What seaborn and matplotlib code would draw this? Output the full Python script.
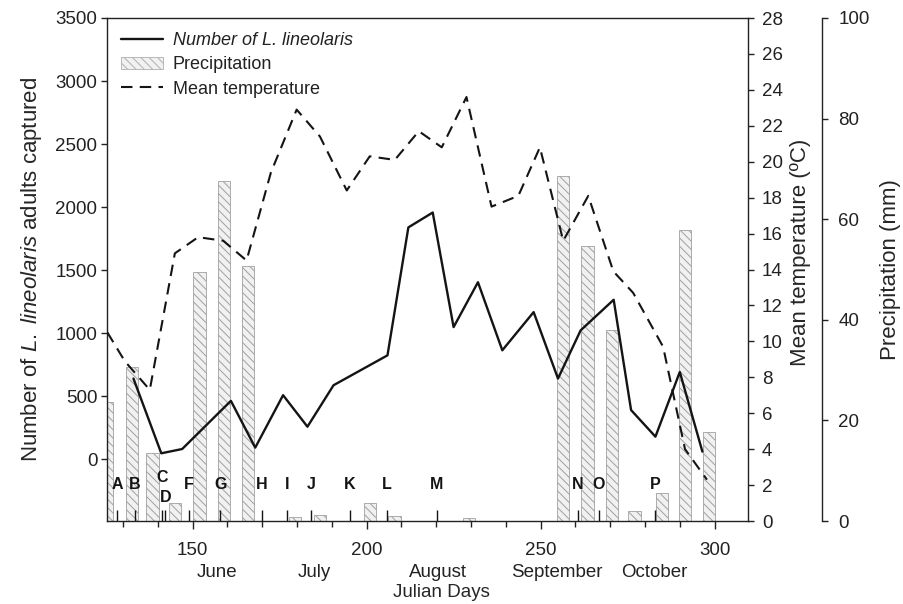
import numpy as np
import pandas as pd
import matplotlib
matplotlib.use("Agg")
import matplotlib.pyplot as plt
from matplotlib.lines import Line2D
from matplotlib.patches import Patch
from matplotlib.ticker import MultipleLocator, FixedLocator
import matplotlib.transforms as mtransforms
import seaborn as sns

# ---------------- data ----------------
bug_days = [133, 141, 147, 161, 168, 176, 183, 190.5, 206, 212, 219, 225, 232,
            239, 248, 255, 261.5, 271, 276, 283, 290, 296.5]
bug_counts = [640, 47, 81, 463, 92, 508, 258, 587, 824, 1839, 1957, 1048, 1404,
              864, 1167, 640, 1022, 1265, 390, 179, 692, 60]

temp_days = [125.5, 130.5, 137.7, 144.9, 151.6, 158.8, 165.5, 172.5, 179.9, 186.6,
             194.3, 200.9, 208.1, 215.0, 221.6, 228.7, 235.9, 243.6, 249.8, 256.5,
             263.7, 270.9, 276.6, 285.2, 291.5, 297.8]
temp_values = [10.5, 8.9, 7.3, 14.9, 15.8, 15.6, 14.5, 19.4, 22.9, 21.4,
               18.4, 20.3, 20.1, 21.7, 20.8, 23.6, 17.5, 18.1, 20.8, 15.6,
               18.1, 13.9, 12.7, 9.7, 4.0, 2.3]

rain_days = [125.5, 132.5, 138.5, 145, 152, 159, 166, 179.5, 186.5, 201, 208,
             229.5, 256.5, 263.5, 270.5, 277, 285, 291.5, 298.5]
rain_mm = [23.7, 30.7, 13.5, 3.6, 49.6, 67.5, 50.7, 0.8, 1.2, 3.6, 0.9,
           0.6, 68.6, 54.7, 38.0, 1.9, 5.6, 57.9, 17.6]

sample_letters = ["A", "B", "C", "D", "F", "G", "H", "I", "J", "K", "L", "M", "N", "O", "P"]
sample_days = [128.3, 133.4, 141.2, 142.2, 148.9, 157.9, 169.9, 177.1, 184.0,
               195.2, 205.8, 220.2, 260.7, 266.8, 282.9]

month_names = ["June", "July", "August", "September", "October"]
month_days = [156.9, 184.9, 220.5, 254.7, 282.6]

x_ticks = [150, 200, 250, 300]
count_ticks = [0, 500, 1000, 1500, 2000, 2500, 3000, 3500]
temp_ticks = list(range(0, 29, 2))
rain_ticks = [0, 20, 40, 60, 80, 100]

# ---------------- style ----------------
sns.set_theme(style="ticks")
plt.rcParams["font.family"] = ["Liberation Sans", "DejaVu Sans"]
plt.rcParams["mathtext.fontset"] = "custom"
plt.rcParams["mathtext.rm"] = "Liberation Sans"
plt.rcParams["mathtext.it"] = "Liberation Sans:italic"
plt.rcParams["hatch.linewidth"] = 0.7
plt.rcParams["axes.edgecolor"] = "#222222"
plt.rcParams["axes.linewidth"] = 1.0
plt.rcParams["xtick.color"] = "#222222"
plt.rcParams["ytick.color"] = "#222222"
plt.rcParams["text.color"] = "#222222"

FS = 13.5
LFS = 16
INK = "#141414"

fig = plt.figure(figsize=(9.04, 6.04), dpi=100)
fig.patch.set_facecolor("white")
L, B, W, H = 107 / 904, 1 - 521 / 604, 641 / 904, 503 / 604
ax = fig.add_axes([L, B, W, H])
ax_temp = ax.twinx()
ax_rain = ax.twinx()

ax_rain.set_zorder(0)
ax.set_zorder(1)
ax_temp.set_zorder(2)
ax.patch.set_visible(False)
ax_temp.patch.set_visible(False)
ax_rain.patch.set_visible(True)
ax_rain.patch.set_facecolor("white")

# ---------------- precipitation bars ----------------
rain_df = pd.DataFrame({"day": rain_days, "mm": rain_mm})
bar_width_days = 3.5
native = np.min(np.diff(np.sort(np.array(rain_days))))
sns.barplot(data=rain_df, x="day", y="mm", native_scale=True, orient="x",
            width=bar_width_days / native, errorbar=None, ax=ax_rain,
            color="#f1f1f1", edgecolor="#a0a0a0", linewidth=0.6,
            hatch="\\\\\\\\", saturation=1)

# ---------------- lines ----------------
bug_df = pd.DataFrame({"day": bug_days, "count": bug_counts})
temp_df = pd.DataFrame({"day": temp_days, "temp": temp_values})
sns.lineplot(data=bug_df, x="day", y="count", ax=ax, color=INK, linewidth=1.7)
sns.lineplot(data=temp_df, x="day", y="temp", ax=ax_temp, color=INK, linewidth=1.5)
for ln in ax_temp.get_lines():
    ln.set_dashes((5.5, 3.5))

# ---------------- sampling markers ----------------
trans = mtransforms.blended_transform_factory(ax.transData, ax.transAxes)
ax.vlines(sample_days, 0, 0.022, transform=trans, color=INK, linewidth=1.0)
for lab, d in zip(sample_letters, sample_days):
    yy = 0.0716
    if lab == "C":
        yy = 0.0855
    elif lab == "D":
        yy = 0.0477
    ax.text(d, yy, lab, transform=trans, ha="center", va="center",
            fontsize=11.5, fontweight="bold", color=INK)

# month names under the tick labels
for name, d in zip(month_names, month_days):
    ax.text(d, -0.1014, name, transform=trans, ha="center", va="center",
            fontsize=FS, color="#222222")

# ---------------- axes limits & ticks ----------------
ax.set_xlim(125.4, 309.6)
ax.set_ylim(-490, 3500)
ax_temp.set_ylim(0, 28)
ax_rain.set_ylim(0, 100)

ax.xaxis.set_major_locator(FixedLocator(x_ticks))
ax.xaxis.set_minor_locator(MultipleLocator(10))
ax.yaxis.set_major_locator(FixedLocator(count_ticks))
ax_temp.yaxis.set_major_locator(FixedLocator(temp_ticks))
ax_rain.yaxis.set_major_locator(FixedLocator(rain_ticks))

ax.tick_params(axis="x", which="major", direction="out", length=6, width=1.0,
               pad=9, labelsize=FS)
ax.tick_params(axis="x", which="minor", direction="out", length=4, width=1.0)
ax.tick_params(axis="y", direction="out", length=4, width=1.0, pad=3, labelsize=FS,
               left=True, right=False)
ax_temp.tick_params(axis="y", direction="out", length=4, width=1.0, pad=6, labelsize=FS)
ax_rain.tick_params(axis="y", direction="out", length=4, width=1.0, pad=8, labelsize=FS)

for s in ["left", "bottom", "top"]:
    ax.spines[s].set_visible(True)
ax.spines["right"].set_visible(False)
for s in ["left", "bottom", "top"]:
    ax_temp.spines[s].set_visible(False)
    ax_rain.spines[s].set_visible(False)
ax_temp.spines["right"].set_visible(True)
ax_rain.spines["right"].set_visible(True)
ax_rain.spines["right"].set_position(("outward", 53))

# ---------------- labels ----------------
ax.set_xlabel("Julian Days", fontsize=FS)
ax.xaxis.set_label_coords(0.521, -0.143)
ax.xaxis.label.set_va("center")
ax.set_ylabel(r"Number of $\mathit{L.}$ $\mathit{lineolaris}$ adults captured",
              fontsize=LFS)
ax.yaxis.set_label_coords(-0.098, 0.5)
ax_temp.set_ylabel("Mean temperature (\u00baC)", fontsize=LFS)
ax_temp.yaxis.set_label_coords(1.0655, 0.535)
ax_rain.set_ylabel("Precipitation (mm)", fontsize=LFS)
ax_rain.yaxis.set_label_coords(1.206, 0.5)
ax_rain.set_xlabel("")

# ---------------- legend ----------------
handles = [
    Line2D([0], [0], color=INK, linewidth=1.7),
    Patch(facecolor="#f1f1f1", edgecolor="#b0b0b0", hatch="\\\\\\\\", linewidth=0.6),
    Line2D([0], [0], color=INK, linewidth=1.5, dashes=(5.5, 3.5)),
]
labels = ["Number of L. lineolaris", "Precipitation", "Mean temperature"]
leg = ax_temp.legend(handles, labels, loc="upper left", bbox_to_anchor=(0, 1),
                     frameon=False, fontsize=13, handlelength=2.3,
                     handletextpad=0.55, labelspacing=0.39,
                     borderaxespad=0.2, borderpad=0.6)
leg.get_texts()[0].set_style("italic")

fig.savefig("out.png", dpi=100, facecolor="white")
